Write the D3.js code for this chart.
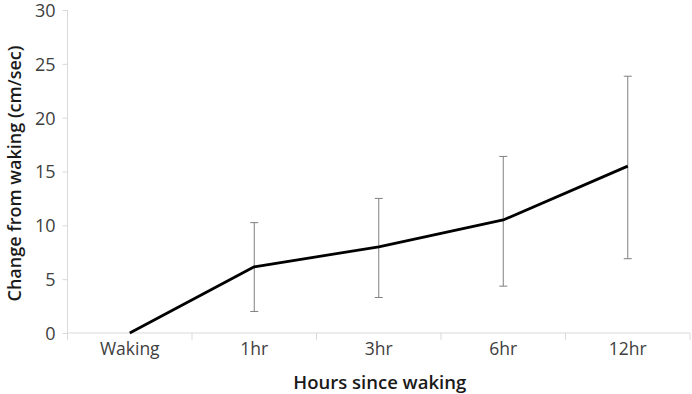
<!DOCTYPE html>
<html><head><meta charset="utf-8">
<script src="https://cdn.jsdelivr.net/npm/d3@7"></script>
<style>body{margin:0;background:#fff}svg{display:block}</style>
</head><body>
<script>
const categories = ["Waking","1hr","3hr","6hr","12hr"];
const means = [0, 6.15, 8.0, 10.5, 15.5];
const lower = [null, 2.0, 3.3, 4.35, 6.9];
const upper = [null, 10.25, 12.5, 16.4, 23.85];
const yTicks = [0,5,10,15,20,25,30];

const W=692,H=394;
const m={l:67.5,r:2,t:10,b:61};
const svg=d3.select("body").append("svg").attr("width",W).attr("height",H);
const x=d3.scaleBand().domain(categories).range([m.l,W-m.r]);
const y=d3.scaleLinear().domain([0,30]).range([H-m.b,m.t]);
const font="'Open Sans', sans-serif";
const grey="#d9d9d9";

// y axis
const ya=svg.append("g").attr("transform",`translate(${m.l},0)`)
  .call(d3.axisLeft(y).tickValues(yTicks).tickSize(5).tickPadding(7));
ya.select(".domain").attr("stroke",grey).attr("d",`M0,${y(0)}V${y(30)}`);
ya.selectAll(".tick line").attr("stroke",grey);
ya.selectAll("text").attr("font-family",font).attr("font-size",18).attr("fill","#404040").attr("dy","0.36em");

// x axis
const xa=svg.append("g").attr("transform",`translate(0,${y(0)})`)
  .call(d3.axisBottom(x).tickSize(0).tickPadding(10));
xa.select(".domain").attr("stroke",grey).attr("d",`M${m.l},0H${W-m.r}`);
xa.selectAll("text").attr("font-family",font).attr("font-size",17.5).attr("fill","#404040");
const bounds=categories.map(c=>x(c)).concat([x(categories[categories.length-1])+x.bandwidth()]);
svg.append("g").selectAll("line").data(bounds).join("line")
  .attr("x1",d=>d).attr("x2",d=>d).attr("y1",y(0)).attr("y2",y(0)+7).attr("stroke",grey);

// error bars
const eb=svg.append("g").attr("stroke","#808080").attr("stroke-width",1);
categories.forEach((c,i)=>{
  if(lower[i]==null) return;
  const cx=x(c)+x.bandwidth()/2;
  eb.append("line").attr("x1",cx).attr("x2",cx).attr("y1",y(lower[i])).attr("y2",y(upper[i]));
  eb.append("line").attr("x1",cx-4).attr("x2",cx+4).attr("y1",y(lower[i])).attr("y2",y(lower[i]));
  eb.append("line").attr("x1",cx-4).attr("x2",cx+4).attr("y1",y(upper[i])).attr("y2",y(upper[i]));
});

// line
const line=d3.line().x((d,i)=>x(categories[i])+x.bandwidth()/2).y(d=>y(d));
svg.append("path").datum(means).attr("d",line).attr("fill","none")
  .attr("stroke","#000").attr("stroke-width",2.75).attr("stroke-linejoin","round");

// titles
svg.append("text").attr("x",(m.l+W-m.r)/2+1).attr("y",389).attr("text-anchor","middle")
  .attr("font-family",font).attr("font-size",18.5).attr("font-weight",600).attr("fill","#1a1a1a")
  .text("Hours since waking");
svg.append("text").attr("transform",`translate(21,${(y(0)+y(30))/2+2}) rotate(-90)`)
  .attr("text-anchor","middle").attr("font-family",font).attr("font-size",18).attr("font-weight",600).attr("fill","#1a1a1a")
  .text("Change from waking (cm/sec)");
</script>
</body></html>
